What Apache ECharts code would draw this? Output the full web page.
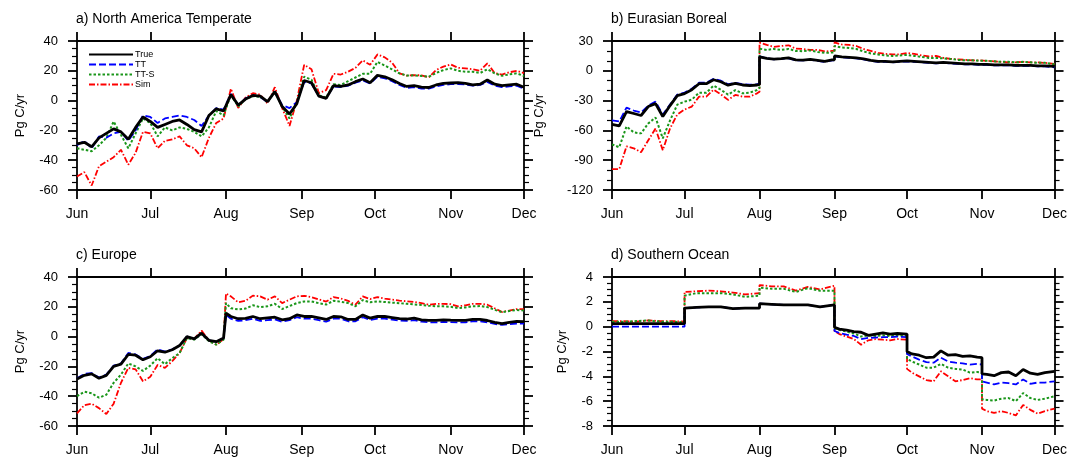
<!DOCTYPE html>
<html><head><meta charset="utf-8">
<script src="https://cdn.jsdelivr.net/npm/echarts@6/dist/echarts.min.js"></script>
<style>html,body{margin:0;padding:0;background:#fff}#c{width:1070px;height:460px}</style>
</head><body><div id="c"></div>
<script>
// ---- tick labels / categories ----
const MONTHS = ['Jun','Jul','Aug','Sep','Oct','Nov','Dec'];
const MONTH_DAYS = [0,30,61,92,122,153,183];
const SERIES_NAMES = ['True','TT','TT-S','Sim'];

// ---- a) North America Temperate ----
const A_DAYS = [0,3,6,9,12,15,18,21,24,27,30,33,36,39,42,45,48,51,54,57,60,63,66,69,72,75,78,81,84,87,90,93,96,99,102,105,108,111,114,117,120,123,126,129,132,135,138,141,144,147,150,153,156,159,162,165,168,171,174,177,180,183];
const A_TRUE = [-29,-28,-31,-25,-22,-19,-21,-26,-18,-11,-14,-18,-16,-14,-13,-16,-19.5,-21,-10,-5.5,-7,4,-3,1,3.5,3,-0.7,6,-4,-9,-2,13.5,12,3,1.5,10,9.5,10.5,12.7,14.5,12,17,16,14,11.5,9.5,10,9,8.8,10.5,11.6,11.8,12,11.6,10.5,11,13.8,11,10,10.5,11,9];
const A_TT = [-30,-27,-32,-24,-25,-22,-21,-27,-20,-10,-11,-15,-12,-11,-10,-11,-13,-17,-10,-5,-6,4.5,-3,1.5,3.5,2.5,-1,6,-3,-5,-1,12.5,11.5,3,1.5,9.5,9,10,12,13.5,11.5,16,15,13,10.5,8.5,9,8,8,9.5,10.5,11,11,10.8,10,10.5,12.5,10,9,9.5,10,8];
const A_TTS = [-32,-33,-34,-30,-25,-14,-23,-32,-22,-12,-15,-24,-18,-20,-18,-19,-21,-24,-18,-7,-10,4,-4,1,3,2.5,-1,6,-4,-12,-1,16,14,3.5,2,11,10.5,13,15.5,18,18,26,23.5,21,18.3,16.8,17,16.5,16,18.5,20.5,21.6,20,19.4,19.4,18.5,21,18.3,16.7,17.6,18.3,16.5];
const A_SIM = [-51,-48,-57,-44,-41,-38,-33,-43,-35,-21,-22,-32,-27,-26,-24,-30,-32,-38,-25,-15,-12,8,-5,2,5,4,-2,9,-5,-17,0,24,21,5,7,18,17.5,19.4,22,27,24,31,29,25.5,18.3,16.8,17,17,15.5,20.5,22.8,24.3,22,21.6,21,20,25,18.5,17.5,19,20,18.5];

// ---- b) Eurasian Boreal ----
const B_DAYS = [0,3,6,9,12,15,18,21,24,27,30,33,36,39,42,45,48,51,54,57,60,61,61,64,67,70,73,76,79,82,85,88,91,92,92,95,98,101,104,107,110,113,116,119,122,125,128,131,134,137,140,143,146,149,152,155,158,161,164,167,170,173,176,179,183];
const B_TRUE = [-54,-55.5,-41,-43,-45,-36,-33,-46,-35,-25,-23,-19,-13,-13,-9,-11,-14.5,-12.7,-14.3,-15,-14.3,-13.7,14,12.5,11.7,12.3,13,11,10.7,11.5,10.5,9.5,11,11,15,14,13.5,13,12,10.5,9.5,9.5,9,9.5,10,9.5,9,8.5,8,8.5,8,7.5,7,7,6.5,6.5,6,6,6,5.5,5.5,5.5,5,5,4.5];
const B_TT = [-50,-51,-37,-40,-42,-35,-31,-44,-34,-24,-22,-18,-12,-12,-8,-10,-13.5,-12,-13.5,-14,-13.5,-13,14.5,12.5,11.5,12,12.5,10.5,10.5,11,10,9,10.5,10.5,14.5,13.5,13,12.5,11.5,10,9,9,8.5,9,9.5,9,8.5,8,7.5,8,7.5,7,6.5,6.5,6,6,5.5,5.5,5.5,5,5,5,4.5,4.5,3.5];
const B_TTS = [-74,-77,-56,-62,-63,-53,-47,-68,-50,-34,-31,-29,-22,-22,-15,-19,-24,-19.5,-22.7,-22,-19.3,-17,22.3,21,22,21,22,20,19.7,20.5,19,18,18.5,18.5,25,23.5,23,22,19.5,17.5,16.5,15.5,15,15.5,16,15,14,13,13,12.5,12,11,10.5,10.5,10,10,9.5,9,9,8.5,9,8.5,8,8,6.5];
const B_SIM = [-99,-99,-76,-78,-82,-70,-58,-80,-58,-44,-39,-36,-26,-26,-19,-23.7,-29.3,-24.3,-26,-26,-22.7,-21,28.3,26,24,25,25.7,22.3,22,21,21,19.5,20,20,28.5,26.5,26,25,22,20,18,17,16.5,16.5,18,17,15.5,14.5,15,13,12,11.5,11,10.5,10.5,10,9.5,9,8.5,8.5,9,8.5,8.5,8,7];

// ---- c) Europe ----
const C_DAYS = [0,3,6,9,12,15,18,21,24,27,30,33,36,39,42,45,48,51,54,57,60,61,63,66,69,72,75,78,81,84,87,90,93,96,99,102,105,108,111,114,117,120,123,126,129,132,135,138,141,144,147,150,153,156,159,162,165,168,171,174,177,180,183];
const C_TRUE = [-28.5,-26,-25,-28,-26,-20,-18.5,-12,-12.5,-15.5,-13.5,-9.5,-10.5,-8.8,-6,0,-1.5,2.3,-2.5,-3.4,-1,15.8,13.5,12,12.2,13.5,12,12.5,13,11.3,12,14.5,13.5,13.5,12.5,11.5,13.5,13.3,11.5,11.5,14.5,12.4,13.5,13.5,12.8,12,11.8,12.4,11.2,10.9,10.9,11.2,11,10.9,10.9,11.5,11.5,10.8,9.5,8.7,9.5,10.2,10];
const C_TT = [-28,-25,-24.5,-27.5,-25.5,-19.5,-18,-11,-12,-15,-13,-8.5,-10,-8.5,-6,0,-1.5,2,-2.5,-3.5,-1,14.5,12,10.5,11,12,10.5,11,11.5,10,11,13,12,12,11,10,12,12,10.3,10.3,13,11.2,12,12,11.4,10.8,10.5,11,10,9.6,9.5,9.8,9.7,9.6,9.6,10.3,10.3,9.6,8.5,7.8,8.3,8.8,8.8];
const C_TTS = [-40,-37,-38,-41,-39,-31,-25.5,-18,-20,-23,-19.5,-14.5,-18.5,-14.5,-11,-1,-2,1.6,-3,-5.4,-2,22.5,19,18.3,18.8,21,19.8,20.3,22,18.5,20.5,22.5,23.6,23.6,22.4,21.5,24,23.4,22.5,20.3,24.5,23,23.6,23.2,22.8,22.4,22,21.6,21.2,20.7,20.4,20.3,20,19.1,19.6,20.3,20.5,19.8,18,16.4,17.2,17.8,17.5];
const C_SIM = [-51.5,-46,-45,-48,-52,-45,-31,-21,-22,-30,-27,-19,-21,-16.5,-11,-1,-1.5,4,-2.5,-5.4,-1.8,29,27,23,24,27.5,27,24.8,27,22.5,24.8,27,27.4,26.5,25,23.5,26.5,25.6,24,21.4,27,25.2,26.5,25.5,24.8,24.2,23.7,23.2,22.5,21.4,22,22,21.8,20.3,21,22,22,21.4,19,16.5,17.5,18.5,18.5];

// ---- d) Southern Ocean ----
const D_DAYS = [0,5,10,15,20,25,30,30,35,40,45,50,55,61,61,66,71,76,81,86,92,92,94,97,100,103,106,109,112,115,118,122,122,124,127,130,133,136,139,142,145,148,151,153,153,155,158,161,164,167,170,173,176,179,183];
const D_TRUE = [0.25,0.25,0.25,0.25,0.25,0.25,0.25,1.5,1.55,1.6,1.6,1.45,1.5,1.5,1.85,1.8,1.75,1.75,1.75,1.6,1.75,-0.05,-0.2,-0.28,-0.4,-0.45,-0.7,-0.6,-0.5,-0.6,-0.55,-0.6,-2.0,-2.2,-2.3,-2.5,-2.45,-1.95,-2.3,-2.25,-2.4,-2.35,-2.45,-2.5,-3.8,-3.85,-3.95,-3.7,-3.65,-3.95,-3.45,-3.75,-3.85,-3.7,-3.6];
const D_TT = [0,0,0,0,0,0,0,1.5,1.55,1.6,1.6,1.45,1.5,1.5,1.85,1.8,1.75,1.75,1.75,1.6,1.75,-0.35,-0.5,-0.65,-0.75,-1.0,-0.9,-0.88,-0.85,-0.85,-0.8,-0.85,-2.2,-2.4,-2.65,-2.85,-2.9,-2.5,-2.8,-2.9,-2.95,-3.05,-3.0,-3.05,-4.4,-4.5,-4.65,-4.5,-4.55,-4.65,-4.25,-4.6,-4.5,-4.5,-4.4];
const D_TTS = [0.4,0.4,0.45,0.5,0.4,0.4,0.35,2.5,2.7,2.7,2.7,2.6,2.4,2.5,3.15,3.05,3.05,2.8,3.1,2.9,2.9,-0.15,-0.25,-0.4,-0.55,-0.8,-0.7,-0.75,-0.7,-0.75,-0.7,-0.75,-2.6,-2.8,-3.05,-3.3,-3.3,-3.0,-3.3,-3.4,-3.45,-3.7,-3.65,-3.7,-5.85,-5.9,-5.95,-5.8,-5.75,-6.0,-5.35,-5.75,-5.9,-5.8,-5.6];
const D_SIM = [0.45,0.45,0.4,0.5,0.45,0.45,0.4,2.8,2.85,2.9,2.85,2.75,2.6,2.7,3.35,3.25,3.25,2.9,3.2,3.0,3.3,-0.35,-0.6,-0.8,-1.0,-1.45,-1.1,-1.0,-1.05,-1.1,-1.0,-1.05,-3.4,-3.7,-4.0,-4.3,-4.4,-3.6,-4.0,-4.4,-4.3,-4.15,-4.25,-4.25,-6.6,-6.8,-6.95,-6.8,-6.95,-7.15,-6.3,-6.7,-7.0,-6.8,-6.6];

// ---- build chart ----
const FONT = '"Liberation Sans", Arial, Helvetica, sans-serif';
const PANELS = [
  {title:'a) North America Temperate', min:-60, max:40, interval:20, minorSplit:4, nameGap:50, days:A_DAYS, vals:[A_TRUE,A_TT,A_TTS,A_SIM], grid:{left:77, top:41, width:447, height:149}},
  {title:'b) Eurasian Boreal', min:-120, max:30, interval:30, minorSplit:3, nameGap:66, days:B_DAYS, vals:[B_TRUE,B_TT,B_TTS,B_SIM], grid:{left:612, top:41, width:447, height:149}},
  {title:'c) Europe', min:-60, max:40, interval:20, minorSplit:4, nameGap:50, days:C_DAYS, vals:[C_TRUE,C_TT,C_TTS,C_SIM], grid:{left:77, top:277, width:447, height:149}},
  {title:'d) Southern Ocean', min:-8, max:4, interval:2, minorSplit:4, nameGap:43, days:D_DAYS, vals:[D_TRUE,D_TT,D_TTS,D_SIM], grid:{left:612, top:277, width:447, height:149}}
];
const STYLES = {
  'True': {color:'#000000', width:2.8, type:'solid', z:5},
  'TT':   {color:'#0000ff', width:1.8, type:[7,3], z:4},
  'TT-S': {color:'#1a961a', width:2.0, type:[2.5,2], z:3},
  'Sim':  {color:'#ff0000', width:1.8, type:[6,2,1.5,2], z:2}
};
const AX = {color:'#000', width:1.8};

const option = {
  animation:false,
  backgroundColor:'#fff',
  title:[], grid:[], xAxis:[], yAxis:[], series:[],
  legend:{
    orient:'vertical', left:83, top:45, itemWidth:44, itemHeight:8, itemGap:1,
    selectedMode:false, data:SERIES_NAMES,
    itemStyle:{opacity:0},
    textStyle:{fontSize:9, lineHeight:9, color:'#000', fontFamily:FONT, padding:[0,0,0,-3]}
  }
};

PANELS.forEach((p,i)=>{
  option.grid.push(Object.assign({containLabel:false}, p.grid));
  option.title.push({text:p.title, left:p.grid.left-1, top:p.grid.top-29, padding:0,
    textStyle:{fontSize:14, fontWeight:'normal', color:'#000', fontFamily:FONT}});
  const xBase = {type:'value', gridIndex:i, min:0, max:183, splitLine:{show:false},
    axisLine:{show:true, onZero:false, lineStyle:AX},
    axisTick:{show:true, inside:false, length:9, customValues:MONTH_DAYS, lineStyle:AX}};
  option.xAxis.push(Object.assign({}, xBase, {position:'bottom',
    axisLabel:{show:true, customValues:MONTH_DAYS, margin:17, fontSize:14, color:'#000', fontFamily:FONT,
      formatter:(v)=>MONTHS[MONTH_DAYS.indexOf(Math.round(v))]}}));
  option.xAxis.push(Object.assign({}, xBase, {position:'top', axisLabel:{show:false}}));
  const yBase = {type:'value', gridIndex:i, min:p.min, max:p.max, interval:p.interval, splitLine:{show:false},
    axisLine:{show:true, onZero:false, lineStyle:AX},
    axisTick:{show:true, inside:false, length:9, lineStyle:AX},
    minorTick:{show:true, splitNumber:p.minorSplit, length:5, lineStyle:{color:'#000', width:1.2}},
    minorSplitLine:{show:false}};
  option.yAxis.push(Object.assign({}, yBase, {position:'left',
    name:'Pg C/yr', nameLocation:'middle', nameGap:p.nameGap,
    nameTextStyle:{fontSize:13, color:'#000', fontFamily:FONT},
    axisLabel:{show:true, margin:19, fontSize:13, color:'#000', fontFamily:FONT}}));
  option.yAxis.push(Object.assign({}, yBase, {position:'right', axisLabel:{show:false}}));
  // draw order: Sim, TT-S, TT, True (True on top)
  [3,2,1,0].forEach(k=>{
    const name = SERIES_NAMES[k], st = STYLES[name];
    option.series.push({
      type:'line', name:name, xAxisIndex:2*i, yAxisIndex:2*i,
      data:p.days.map((d,j)=>[d, p.vals[k][j]]),
      showSymbol:false, symbol:'none', z:st.z,
      itemStyle:{color:st.color},
      lineStyle:{color:st.color, width:st.width, type:st.type},
      emphasis:{disabled:true}
    });
  });
});

const chart = echarts.init(document.getElementById('c'), null, {renderer:'canvas'});
chart.setOption(option);
</script>
</body></html>
